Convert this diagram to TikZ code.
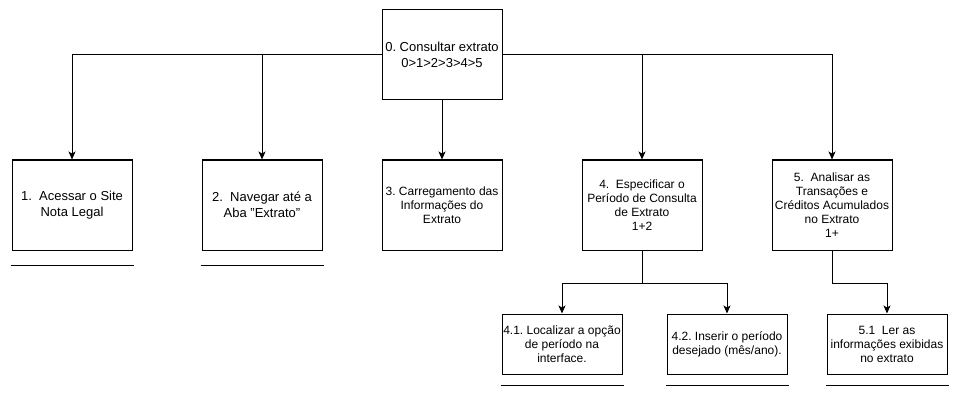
\documentclass[tikz,border=0pt]{standalone}
\usepackage{fontspec}
\setmainfont{Liberation Sans}
\usetikzlibrary{arrows.meta}
\frenchspacing
\begin{document}
\begin{tikzpicture}[x=1pt, y=-1pt, line width=1pt,
    task/.style={draw, minimum width=120pt, minimum height=90pt, inner sep=0pt, align=center, font=\fontsize{12}{14}\selectfont},
    bigtext/.style={font=\fontsize{13}{16.5}\selectfont},
    subtask/.style={task, minimum height=60pt},
    link/.style={-{Stealth[length=8pt,width=7pt,inset=2pt]}}]
                \useasboundingbox (0,0) rectangle (961,401);

                % Root
                \node[task, bigtext] (b0) at (442,55) {0. Consultar extrato\\0>1>2>3>4>5};

                % Steps
                \node[task, bigtext] (b1) at (72,205) {1.\ \ Acessar o Site\\Nota Legal};
                \node[task, bigtext] (b2) at (262,205) {2.\ \ Navegar até a\\Aba "Extrato"};
                \node[task] (b3) at (442,205) {3. Carregamento das\\Informações do\\Extrato};
                \node[task] (b4) at (642,205) {4.\ \ Especificar o\\Período de Consulta\\de Extrato\\1+2};
                \node[task] (b5) at (832,205) {5.\ \ Analisar as\\Transações e\\Créditos Acumulados\\no Extrato\\1+};

                % Sub steps
                \node[subtask] (b41) at (562,344) {4.1. Localizar a opção\\de período na\\interface.};
                \node[subtask] (b42) at (727,344) {4.2. Inserir o período\\desejado (mês/ano).};
                \node[subtask] (b51) at (887,344) {5.1\ \ Ler as\\informações exibidas\\no extrato};

                % Links
                \draw[link] (b0.west) -| (b1);
                \draw[link] (b0.west) -| (b2);
                \draw[link] (b0) -- (b3);
                \draw[link] (b0.east) -| (b4);
                \draw[link] (b0.east) -| (b5);
                \draw[link] (b4.south) -- ++(0,33) coordinate (j4) -| (b41);
                \draw[link] (j4) -| (b42);
                \draw[link] (b5.south) -- ++(0,33) -| (b51);

                % Underlines
                \foreach \b in {b1, b2}
                    \draw ([xshift=-1pt, yshift=-15pt]\b.south west) -- ([xshift=1pt, yshift=-15pt]\b.south east);
                \foreach \b in {b41, b42, b51}
                    \draw ([xshift=-1pt, yshift=-11pt]\b.south west) -- ([xshift=1pt, yshift=-11pt]\b.south east);
            \end{tikzpicture}
\end{document}
